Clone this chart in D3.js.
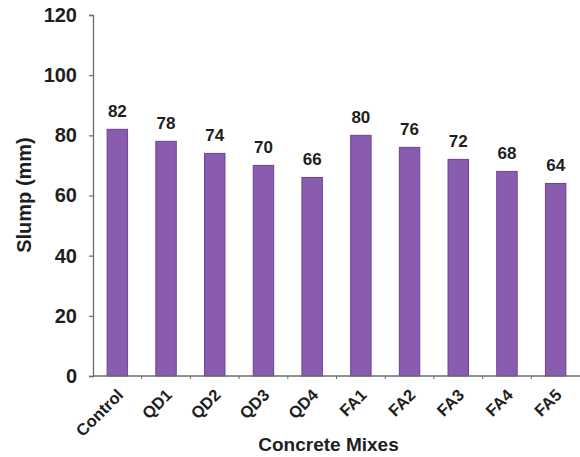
<!DOCTYPE html>
<html>
<head>
<meta charset="utf-8">
<script src="https://cdn.jsdelivr.net/npm/d3@7"></script>
<style>
  html, body { margin: 0; padding: 0; background: #fff; }
  svg { display: block; font-family: Arial, "Liberation Sans", sans-serif; }
</style>
</head>
<body>
<svg id="chart" width="580" height="457"></svg>
<script>
// Slump of each concrete mix
const mixes = ["Control", "QD1", "QD2", "QD3", "QD4", "FA1", "FA2", "FA3", "FA4", "FA5"];
const slump = [82, 78, 74, 70, 66, 80, 76, 72, 68, 64];
const yTicks = [0, 20, 40, 60, 80, 100, 120];

const svg = d3.select("#chart");
const plotLeft = 93, plotRight = 580, plotTop = 15, plotBottom = 376;

const x = d3.scaleBand()
  .domain(mixes)
  .range([plotLeft, plotRight])
  .paddingInner(0.58)
  .paddingOuter(0.29);

const y = d3.scaleLinear().domain([0, 120]).range([plotBottom, plotTop]);

const axisColor = "#6b6b6b";
const textColor = "#1e1e1e";

// y axis
const yAxis = svg.append("g")
  .attr("transform", `translate(${plotLeft},0)`)
  .call(d3.axisLeft(y).tickValues(yTicks).tickSize(4).tickPadding(12));
yAxis.select(".domain").attr("stroke", axisColor).attr("stroke-width", 1.3);
yAxis.selectAll(".tick line").attr("stroke", axisColor).attr("stroke-width", 1.2);
yAxis.selectAll(".tick text")
  .attr("fill", textColor)
  .style("font-size", "20px")
  .style("font-weight", "bold");

// bars
svg.append("g").selectAll("rect")
  .data(mixes)
  .join("rect")
  .attr("x", d => x(d))
  .attr("y", (d, i) => y(slump[i]))
  .attr("width", x.bandwidth())
  .attr("height", (d, i) => y(0) - y(slump[i]))
  .attr("fill", "#8a5cb0")
  .attr("stroke", "#6c4393")
  .attr("stroke-width", 1);

// value labels
svg.append("g").selectAll("text")
  .data(mixes)
  .join("text")
  .attr("x", d => x(d) + x.bandwidth() / 2)
  .attr("y", (d, i) => y(slump[i]) - 12)
  .attr("text-anchor", "middle")
  .attr("fill", textColor)
  .style("font-size", "17px")
  .style("font-weight", "bold")
  .text((d, i) => slump[i]);

// x axis: line with ticks at category boundaries
const xg = svg.append("g");
xg.append("line")
  .attr("x1", plotLeft).attr("x2", plotRight)
  .attr("y1", y(0)).attr("y2", y(0))
  .attr("stroke", axisColor).attr("stroke-width", 1.3);
const step = x.step();
const boundaries = d3.range(mixes.length).map(i => x(mixes[i]) + x.bandwidth() / 2 + step / 2);
xg.selectAll(".bt")
  .data(boundaries.slice(0, -1))
  .join("line")
  .attr("x1", d => d).attr("x2", d => d)
  .attr("y1", y(0)).attr("y2", y(0) + 3)
  .attr("stroke", axisColor).attr("stroke-width", 1);

// rotated category labels
xg.selectAll(".cat")
  .data(mixes)
  .join("text")
  .attr("transform", d => `translate(${x(d) + x.bandwidth() / 2 + 7},${y(0) + 20}) rotate(-45)`)
  .attr("text-anchor", "end")
  .attr("fill", textColor)
  .style("font-size", "16.5px")
  .style("font-weight", "bold")
  .text(d => d);

// axis titles
svg.append("text")
  .attr("transform", `translate(31,195) rotate(-90)`)
  .attr("text-anchor", "middle")
  .attr("fill", textColor)
  .style("font-size", "20px")
  .style("font-weight", "bold")
  .text("Slump (mm)");

svg.append("text")
  .attr("x", 328.5)
  .attr("y", 451)
  .attr("text-anchor", "middle")
  .attr("fill", textColor)
  .style("font-size", "19px")
  .style("font-weight", "bold")
  .text("Concrete Mixes");
</script>
</body>
</html>
